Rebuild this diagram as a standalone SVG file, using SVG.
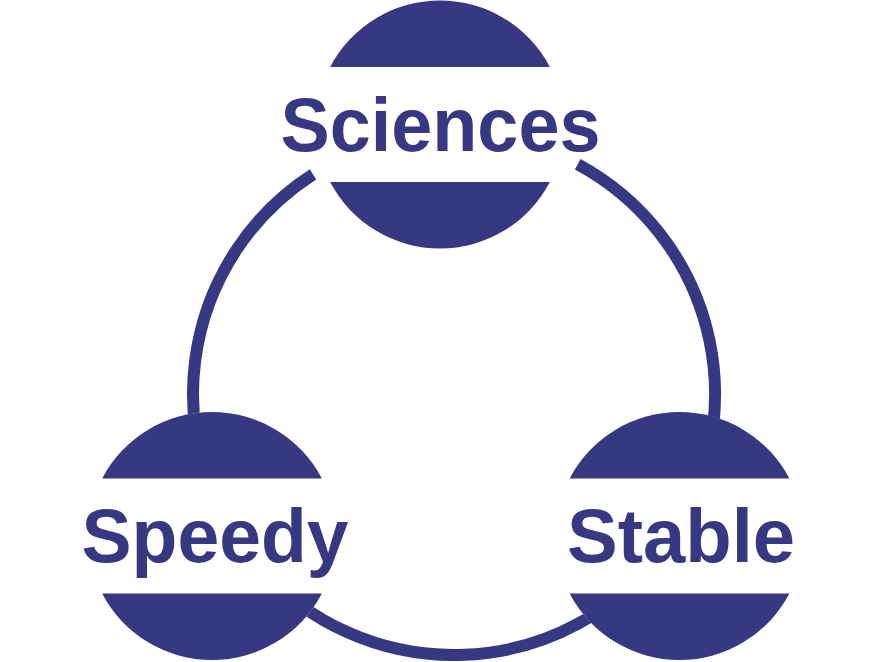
<svg xmlns="http://www.w3.org/2000/svg" xmlns:xlink="http://www.w3.org/1999/xlink" width="893" height="662" viewBox="0 0 893 662">
  <style>
    .ring { fill: none; stroke: #363882; stroke-width: 12; stroke-linecap: butt; }
    .cap { fill: #363882; }
    .hole { fill: #ffffff; }
    .label { font-family: "Liberation Sans", Arial, sans-serif; font-weight: bold; font-size: 76px; fill: #363882; text-anchor: middle; }
  </style>
  <defs>
    <g id="nodeShape">
      <circle class="hole" cx="0" cy="0" r="124"/>
      <path class="cap" d="M -109.86 -57.5 A 124 124 0 0 1 109.86 -57.5 Z"/>
      <path class="cap" d="M -109.86 57.5 A 124 124 0 0 0 109.86 57.5 Z"/>
    </g>
  </defs>
  <rect width="893" height="662" fill="#ffffff"/>
  <g id="connectors">
    <path class="ring" d="M 313 174.4 A 261 261 0 1 0 577.7 164.2"/>
  </g>
  <g id="node-sciences">
    <use xlink:href="#nodeShape" href="#nodeShape" x="440" y="124.5"/>
    <text class="label" x="440.5" y="151" textLength="320" lengthAdjust="spacingAndGlyphs">Sciences</text>
  </g>
  <g id="node-speedy">
    <use xlink:href="#nodeShape" href="#nodeShape" x="212" y="536"/>
    <text class="label" x="215" y="562" textLength="267" lengthAdjust="spacingAndGlyphs">Speedy</text>
  </g>
  <g id="node-stable">
    <use xlink:href="#nodeShape" href="#nodeShape" x="679.5" y="536"/>
    <text class="label" x="681" y="562">Stable</text>
  </g>
</svg>
